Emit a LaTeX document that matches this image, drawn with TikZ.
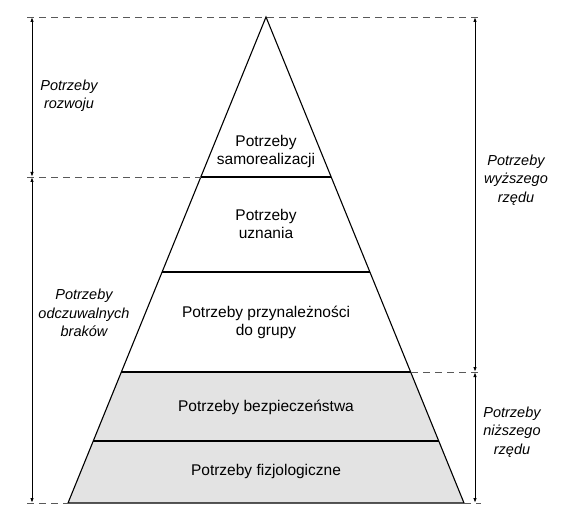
\documentclass[tikz,border=0pt]{standalone}
\usepackage{fontspec}
\setmainfont{Liberation Sans}
\usepackage{tikz}
\usetikzlibrary{arrows.meta}
\tikzstyle{lvl}=[draw=black, line width=1.1pt]
\tikzstyle{guide}=[draw=black!65, dash pattern=on 7pt off 5pt, line width=0.9pt]
\tikzstyle{rng}=[{Latex[length=5pt,width=3.5pt]}-{Latex[length=5pt,width=3.5pt]}, line width=1pt]
\tikzstyle{ptext}=[font=\fontsize{15.5}{18}\selectfont, align=center, inner sep=0]
\tikzstyle{glabel}=[font=\fontsize{14.5}{18.5}\selectfont\itshape, align=center, inner sep=0]

\begin{document}
\begin{tikzpicture}[x=1pt,y=-1pt]
\path[use as bounding box, fill=white] (0,0) rectangle (561,518);
% pyramid corners
\coordinate (top) at (266,17);
\coordinate (l1) at (201,177); \coordinate (r1) at (331,177);
\coordinate (l2) at (162,272); \coordinate (r2) at (370,272);
\coordinate (l3) at (121,372); \coordinate (r3) at (411,372);
\coordinate (l4) at (93,441);  \coordinate (r4) at (439,441);
\coordinate (l5) at (68,503);  \coordinate (r5) at (464,503);
% ends of the guides
\coordinate (gl0) at (27,17);  \coordinate (gr0) at (481,17);
\coordinate (gl1) at (27,177);
\coordinate (gr3) at (481,372);
\coordinate (gl5) at (27,503); \coordinate (gr5) at (481,503);
\coordinate (a0) at (32,17);  \coordinate (a1) at (32,177);  \coordinate (a2) at (32,503);
\coordinate (b0) at (475,17); \coordinate (b1) at (475,372); \coordinate (b2) at (475,503);

\fill[black!11] (l3) -- (r3) -- (r5) -- (l5) -- cycle;
\path[lvl] (top) -- (l5) -- (r5) -- cycle;
\foreach \i in {1,...,4}
  \path[lvl] (l\i) -- (r\i);

\path[guide] (gl0) -- (gr0)
  (gl1) -- (l1)
  (r3) -- (gr3)
  (gl5) -- (l5)
  (r5) -- (gr5);

\draw[rng] (a0) -- (a1);
\draw[rng] (a1) -- (a2);
\draw[rng] (b0) -- (b1);
\draw[rng] (b1) -- (b2);

\node[ptext] (samo) at (266,151) {Potrzeby\\samorealizacji};
\node[ptext] (uzn) at (266,224) {Potrzeby\\uznania};
\node[ptext] (przyn) at (266,322) {Potrzeby przynależności\\do grupy};
\node[ptext] (bezp) at (266,407) {Potrzeby bezpieczeństwa};
\node[ptext] (fizj) at (266,471) {Potrzeby fizjologiczne};

\node[glabel] (rozw) at (69,96) {Potrzeby\\rozwoju};
\node[glabel] (brak) at (84,313) {Potrzeby\\odczuwalnych\\braków};
\node[glabel] (wyz) at (516,180) {Potrzeby\\wyższego\\rzędu};
\node[glabel] (niz) at (512,432) {Potrzeby\\niższego\\rzędu};
\end{tikzpicture}
\end{document}
